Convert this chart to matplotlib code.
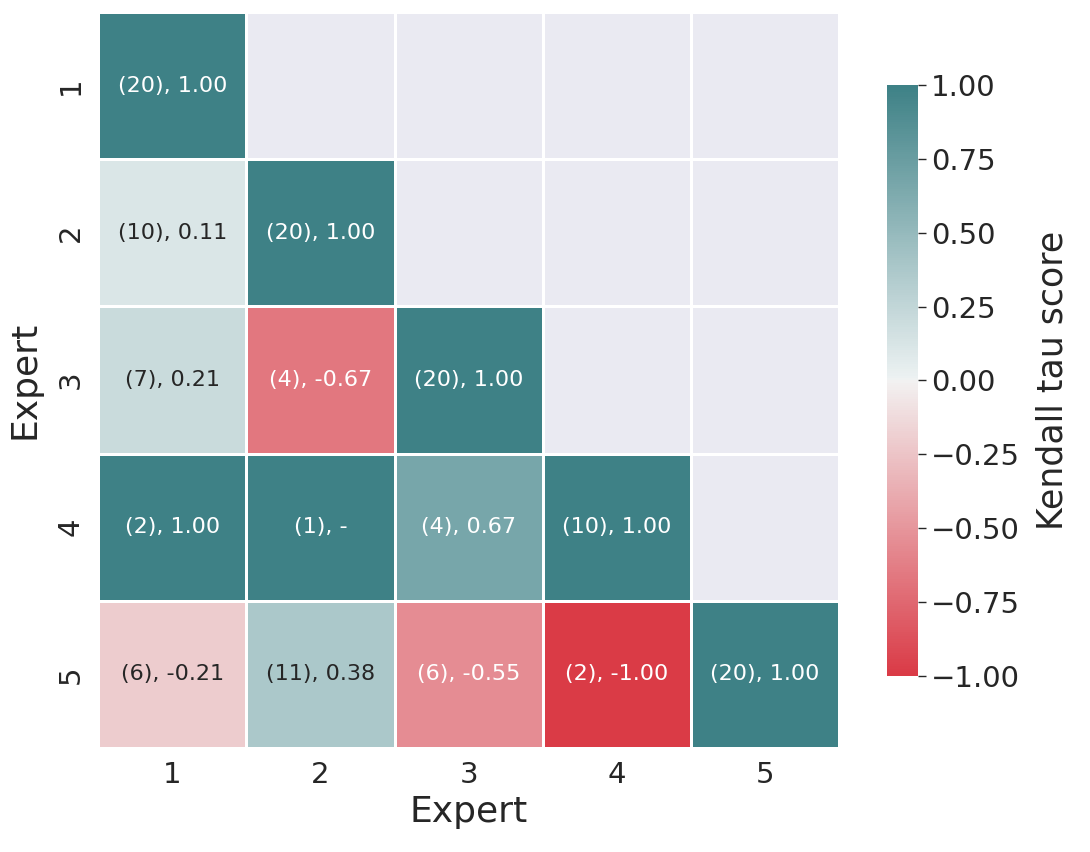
import numpy as np
import matplotlib
matplotlib.use("Agg")
import matplotlib.pyplot as plt
import seaborn as sns

experts = ["1", "2", "3", "4", "5"]
tau = [
    [1.00, np.nan, np.nan, np.nan, np.nan],
    [0.11, 1.00, np.nan, np.nan, np.nan],
    [0.21, -0.67, 1.00, np.nan, np.nan],
    [1.00, 1.00, 0.67, 1.00, np.nan],
    [-0.21, 0.38, -0.55, -1.00, 1.00],
]
counts = [
    [20, 0, 0, 0, 0],
    [10, 20, 0, 0, 0],
    [7, 4, 20, 0, 0],
    [2, 1, 4, 10, 0],
    [6, 11, 6, 2, 20],
]
# cells where the score is undefined (shown as "-")
undefined = [(3, 1)]
cbar_ticks = [-1, -0.75, -0.5, -0.25, 0, 0.25, 0.5, 0.75, 1.0]

sns.set_theme(style="darkgrid", font_scale=2)
plt.rcParams['font.family'] = ['DejaVu Sans']

vals = np.array(tau, dtype=float)
mask = np.triu(np.ones_like(vals, dtype=bool), k=1)
labels = np.empty(vals.shape, dtype=object)
for i in range(5):
    for j in range(5):
        if mask[i, j]:
            labels[i, j] = ""
        elif (i, j) in undefined:
            labels[i, j] = f"({counts[i][j]}), -"
        else:
            labels[i, j] = f"({counts[i][j]}), {vals[i, j]:.2f}"

cmap = sns.diverging_palette(10, 200, s=75, l=50, as_cmap=True)

fig = plt.figure(figsize=(10.9, 8.52), dpi=100)
ax = fig.add_axes([0.09, 0.122, 0.68, 0.864])
cax = fig.add_axes([0.814, 0.207, 0.028, 0.693])

sns.heatmap(vals, mask=mask, cmap=cmap, vmin=-1, vmax=1, center=0,
            annot=labels, fmt="", annot_kws={"size": 16},
            linewidths=0.8, linecolor="white", square=False,
            xticklabels=experts, yticklabels=experts,
            ax=ax, cbar_ax=cax, cbar_kws={"label": "Kendall tau score"})

ax.grid(False)
ax.set_facecolor("#EAEAF2")
ax.set_xlabel("Expert", fontsize=26)
ax.set_ylabel("Expert", fontsize=26)
ax.yaxis.set_label_coords(-0.076, 0.5)
ax.tick_params(axis="both", labelsize=21)
cax.tick_params(labelsize=21, length=6, width=1, color="#262626", left=False, right=True)
cax.set_yticks(cbar_ticks)
cax.set_yticklabels([f"{v:.2f}".replace("-", "\u2212") for v in cbar_ticks])
cax.set_ylabel("Kendall tau score", fontsize=25)
cax.yaxis.set_label_coords(4.85, 0.5)

fig.savefig("out.png", dpi=100)
